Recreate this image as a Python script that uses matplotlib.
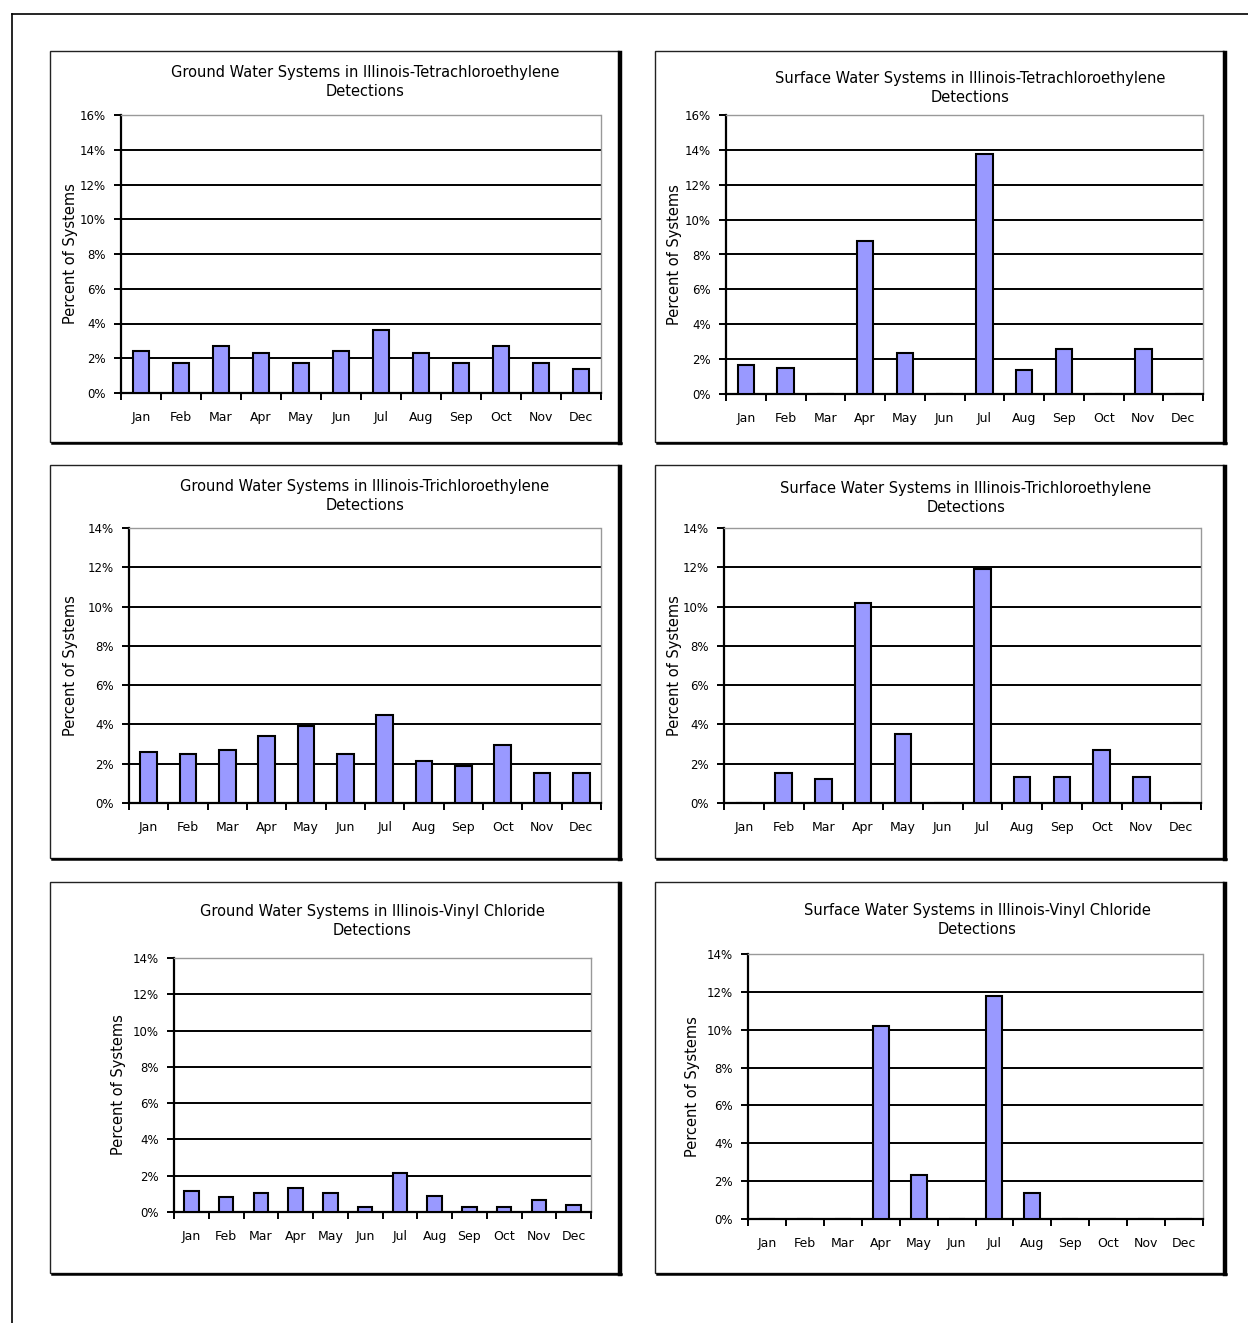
import numpy as np
import matplotlib
matplotlib.use("Agg")
import matplotlib.pyplot as plt
from matplotlib.patches import Rectangle
from matplotlib.lines import Line2D

W, H = 1248, 1323

months = ["Jan", "Feb", "Mar", "Apr", "May", "Jun",
          "Jul", "Aug", "Sep", "Oct", "Nov", "Dec"]

# percent of systems with detections, by month
gw_pce = [2.4, 1.75, 2.7, 2.3, 1.75, 2.4, 3.65, 2.3, 1.7, 2.7, 1.7, 1.4]
sw_pce = [1.65, 1.5, 0, 8.8, 2.35, 0, 13.75, 1.35, 2.6, 0, 2.6, 0]
gw_tce = [2.6, 2.5, 2.7, 3.4, 3.9, 2.5, 4.5, 2.15, 1.9, 2.95, 1.55, 1.55]
sw_tce = [0, 1.55, 1.2, 10.2, 3.5, 0, 11.9, 1.3, 1.3, 2.7, 1.3, 0]
gw_vc = [1.15, 0.8, 1.05, 1.3, 1.05, 0.25, 2.15, 0.9, 0.25, 0.25, 0.65, 0.4]
sw_vc = [0, 0, 0, 10.2, 2.3, 0, 11.8, 1.4, 0, 0, 0, 0]

titles = [
    "Ground Water Systems in Illinois-Tetrachloroethylene\nDetections",
    "Surface Water Systems in Illinois-Tetrachloroethylene\nDetections",
    "Ground Water Systems in Illinois-Trichloroethylene\nDetections",
    "Surface Water Systems in Illinois-Trichloroethylene\nDetections",
    "Ground Water Systems in Illinois-Vinyl Chloride\nDetections",
    "Surface Water Systems in Illinois-Vinyl Chloride\nDetections",
]
series = [gw_pce, sw_pce, gw_tce, sw_tce, gw_vc, sw_vc]
ymaxes = [16, 16, 14, 14, 14, 14]

# layout in pixels: outer box, plot area, title centre, y-label x
boxes = [(50, 51, 619, 442), (655, 51, 1224, 442),
         (50, 465, 619, 858), (655, 465, 1224, 858),
         (50, 882, 619, 1273), (655, 882, 1224, 1273)]
plots = [(121, 115, 601, 393), (726, 115, 1203, 394),
         (129, 528, 601, 803), (724, 528, 1201, 803),
         (174, 958, 591, 1212), (748, 954, 1203, 1219)]
title_pos = [(365, 82), (970, 88), (365, 496), (966, 498), (372, 921), (977, 920)]
ylab_x = [70, 675, 70, 675, 118, 692]

plt.rcParams['font.family'] = 'DejaVu Sans'

fig = plt.figure(figsize=(W / 100, H / 100), dpi=100)


def fx(x):
    return x / W


def fy(y):
    return 1 - y / H


# page frame (top and left edges only)
fig.add_artist(Line2D([fx(12), fx(W)], [fy(14), fy(14)], color="black", lw=1.2))
fig.add_artist(Line2D([fx(12), fx(12)], [fy(14), fy(H)], color="black", lw=1.2))

for i in range(6):
    bx0, by0, bx1, by1 = boxes[i]
    # chart frame with a heavier right/bottom edge
    fig.add_artist(Rectangle((fx(bx0), fy(by1)), fx(bx1 - bx0), (by1 - by0) / H,
                             fill=False, edgecolor="#222222", lw=1.0))
    fig.add_artist(Line2D([fx(bx1 + 1), fx(bx1 + 1)], [fy(by0 + 2), fy(by1 + 1)],
                          color="black", lw=3.2))
    fig.add_artist(Line2D([fx(bx0 + 2), fx(bx1 + 2)], [fy(by1 + 1), fy(by1 + 1)],
                          color="black", lw=1.8))

    px0, py0, px1, py1 = plots[i]
    ax = fig.add_axes([fx(px0), fy(py1), fx(px1 - px0), (py1 - py0) / H])
    x = np.arange(12)
    ax.bar(x, series[i], width=0.42, color="#9999ff", edgecolor="black",
           linewidth=1.5, zorder=3)
    ax.set_xlim(-0.5, 11.5)
    ax.set_ylim(0, ymaxes[i])
    ax.set_yticks(np.arange(0, ymaxes[i] + 1, 2))
    ax.set_yticklabels([f"{v}%" for v in range(0, ymaxes[i] + 1, 2)], fontsize=8.5)
    ax.yaxis.grid(True, color="black", lw=1.4)
    ax.set_axisbelow(True)

    ax.set_xticks(np.arange(-0.5, 12, 1))
    ax.set_xticklabels([])
    ax.set_xticks(x, minor=True)
    ax.set_xticklabels(months, minor=True, fontsize=9)
    ax.tick_params(axis="x", which="major", direction="out", length=5, width=1.4)
    ax.tick_params(axis="x", which="minor", length=0, pad=13)
    ax.tick_params(axis="y", direction="out", length=5, width=1.4, pad=6)

    ax.spines["left"].set_linewidth(1.6)
    ax.spines["bottom"].set_linewidth(1.6)
    ax.spines["top"].set_color("#999999")
    ax.spines["top"].set_linestyle((0, (1, 1)))
    ax.spines["top"].set_linewidth(1.0)
    ax.spines["right"].set_color("#999999")
    ax.spines["right"].set_linewidth(1.0)

    tx, ty = title_pos[i]
    fig.text(fx(tx), fy(ty), titles[i], ha="center", va="center",
             fontsize=10.5, linespacing=1.4)
    fig.text(fx(ylab_x[i]), fy((py0 + py1) / 2), "Percent of Systems",
             rotation=90, ha="center", va="center", fontsize=10.5)

fig.savefig("out.png", dpi=100)
